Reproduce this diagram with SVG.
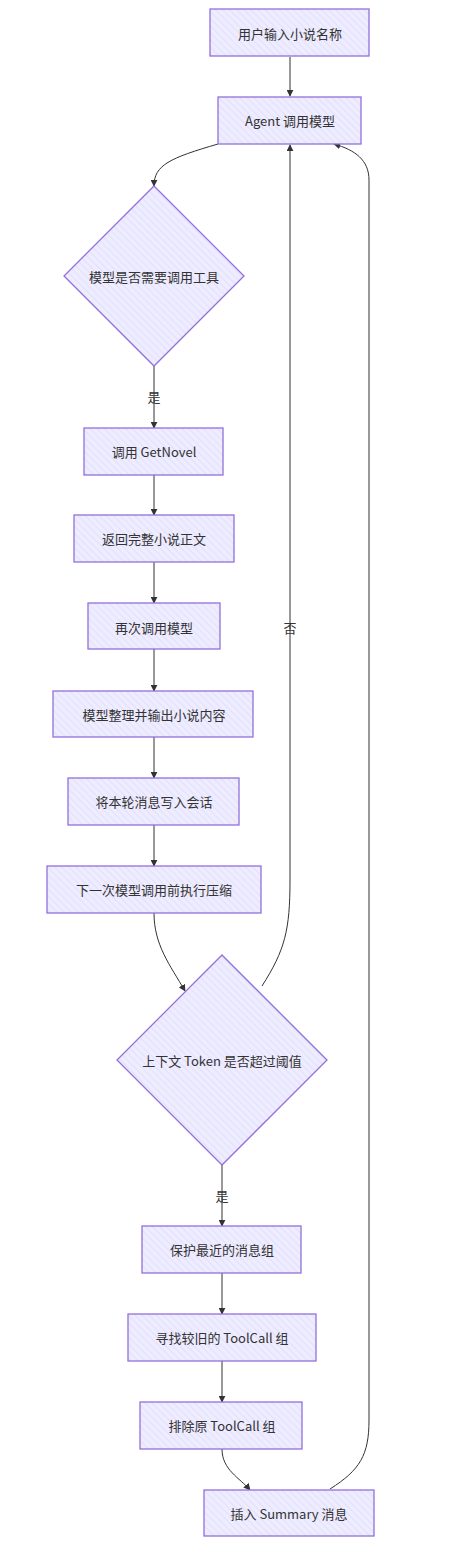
<svg xmlns="http://www.w3.org/2000/svg" width="450" height="1545" viewBox="0 0 450 1545">
<defs>
<pattern id="hatch" patternUnits="userSpaceOnUse" width="5" height="5" patternTransform="rotate(-45)">
<rect width="5" height="5" fill="#eeecff"/>
<line x1="0" y1="0" x2="0" y2="5" stroke="#dcd6fa" stroke-width="1.2"/>
</pattern>
<marker id="arr" viewBox="0 0 10 10" refX="9" refY="5" markerWidth="7" markerHeight="7" orient="auto-start-reverse" markerUnits="userSpaceOnUse">
<path d="M0,0 L10,5 L0,10 z" fill="#333"/>
</marker>
<style>
.n rect,.n polygon{fill:url(#hatch);stroke:#9370db;stroke-width:1.3}
text{font-family:"Noto Sans CJK SC","Noto Sans",sans-serif;font-size:13px;fill:#333;text-anchor:middle;dominant-baseline:central}
.e path{fill:none;stroke:#333;stroke-width:1;marker-end:url(#arr)}
.lbl{fill:#333}
</style>
</defs>
<rect width="450" height="1545" fill="#ffffff"/>
<g class="e" id="connectors">
<path d="M290,57 L290,96"/>
<path d="M218,144 C170,158 154,165 154,186"/>
<path d="M154,366 L154,428"/>
<path d="M154,475 L154,515"/>
<path d="M154,562 L154,603"/>
<path d="M154,649 L154,691"/>
<path d="M154,737 L154,778"/>
<path d="M154,825 L154,866"/>
<path d="M154,913 C154,945 170,965 185,991"/>
<path d="M262,986 C285,950 290,930 290,880 L290,145"/>
<path d="M222,1165 L222,1226"/>
<path d="M222,1273 L222,1314"/>
<path d="M222,1361 L222,1402"/>
<path d="M222,1449 C222,1470 240,1478 250,1490"/>
<path d="M330,1489 C360,1470 369,1455 369,1420 L369,180 C369,160 355,150 334,144"/>
</g>
<g id="edge-labels">
<text x="154" y="396">是</text>
<text x="290" y="627">否</text>
<text x="222" y="1195">是</text>
</g>
<g class="n" id="n1"><rect x="210" y="9" width="159" height="47"/><text x="290" y="33">用户输入小说名称</text></g>
<g class="n" id="n2"><rect x="218" y="97" width="143" height="47"/><text x="290" y="120">Agent 调用模型</text></g>
<g class="n" id="d1"><polygon points="154,186 244,276 154,366 64,276"/><text x="154" y="276">模型是否需要调用工具</text></g>
<g class="n" id="n3"><rect x="84" y="428" width="139" height="47"/><text x="154" y="451">调用 GetNovel</text></g>
<g class="n" id="n4"><rect x="74" y="515" width="160" height="47"/><text x="154" y="538">返回完整小说正文</text></g>
<g class="n" id="n5"><rect x="88" y="603" width="132" height="46"/><text x="154" y="627">再次调用模型</text></g>
<g class="n" id="n6"><rect x="53" y="691" width="200" height="46"/><text x="154" y="714">模型整理并输出小说内容</text></g>
<g class="n" id="n7"><rect x="68" y="778" width="171" height="47"/><text x="154" y="801">将本轮消息写入会话</text></g>
<g class="n" id="n8"><rect x="47" y="866" width="214" height="47"/><text x="154" y="889">下一次模型调用前执行压缩</text></g>
<g class="n" id="d2"><polygon points="222,955 327,1060 222,1165 117,1060"/><text x="222" y="1060">上下文 Token 是否超过阈值</text></g>
<g class="n" id="n9"><rect x="142" y="1226" width="159" height="47"/><text x="222" y="1249">保护最近的消息组</text></g>
<g class="n" id="n10"><rect x="128" y="1314" width="188" height="47"/><text x="222" y="1337">寻找较旧的 ToolCall 组</text></g>
<g class="n" id="n11"><rect x="140" y="1402" width="162" height="47"/><text x="222" y="1425">排除原 ToolCall 组</text></g>
<g class="n" id="n12"><rect x="204" y="1490" width="170" height="46"/><text x="289" y="1513">插入 Summary 消息</text></g>
</svg>
